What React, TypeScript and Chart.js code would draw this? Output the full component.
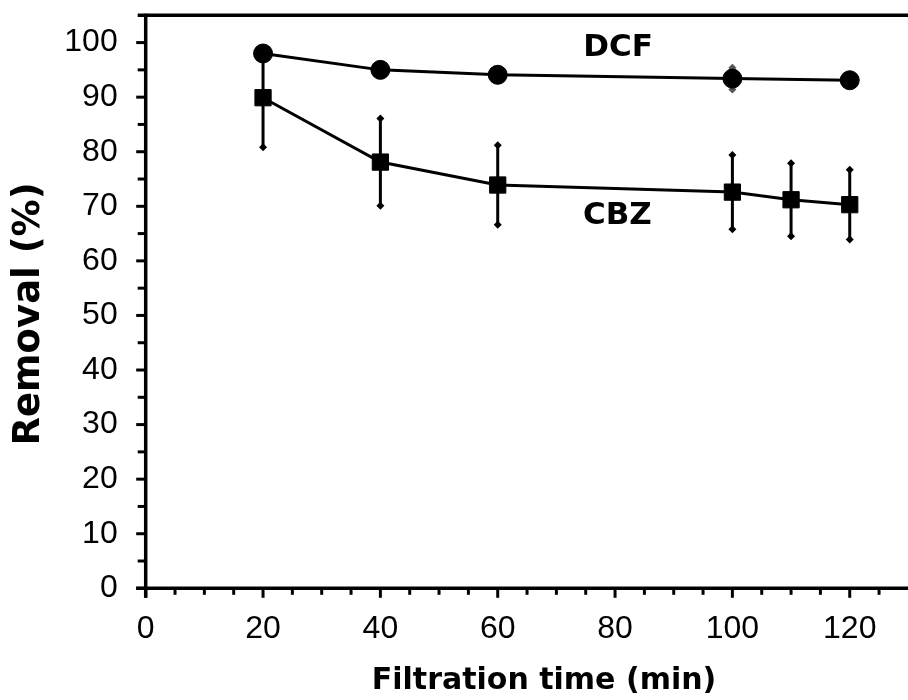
import React, { useEffect, useRef } from "react";
import { Chart, registerables } from "chart.js";

Chart.register(...registerables);

// ---- data ----
const timeDCF = [20, 40, 60, 100, 120];
const removalDCF = [98.0, 95.0, 94.1, 93.4, 93.1];
const errorDCF = [0.8, 0.6, 0.7, 2.0, 0.8];

const timeCBZ = [20, 40, 60, 100, 110, 120];
const removalCBZ = [89.9, 78.1, 73.9, 72.6, 71.2, 70.3];
const errorCBZ = [9.1, 8.0, 7.3, 6.8, 6.7, 6.4];

const xTickValues = [0, 20, 40, 60, 80, 100, 120];
const yTickValues = [0, 10, 20, 30, 40, 50, 60, 70, 80, 90, 100];
const xMin = 0;
const xMax = 127.8;
const yMin = 0;
const yMax = 105;
const minorStep = 5;

const seriesNames = ["DCF", "CBZ"];
const seriesLabelX = [80.5, 80.4];
const seriesLabelY = [99.0, 68.2];
const errorsBySeries = [errorDCF, errorCBZ];

const xTitle = "Filtration time (min)";
const yTitle = "Removal (%)";

const decorPlugin = {
  id: "decor",
  beforeDatasetsDraw(chart: any) {
    const { ctx, scales } = chart;
    const x = scales.x;
    const y = scales.y;
    ctx.save();
    chart.data.datasets.forEach((ds: any, di: number) => {
      const errs = errorsBySeries[di];
      const col = di === 0 ? "#555" : "#000";
      ctx.strokeStyle = col;
      ctx.fillStyle = col;
      ctx.lineWidth = 3;
      ds.data.forEach((p: any, i: number) => {
        const e = errs[i];
        const px = x.getPixelForValue(p.x);
        const top = y.getPixelForValue(p.y + e);
        const bot = y.getPixelForValue(p.y - e);
        ctx.beginPath();
        ctx.moveTo(px, top);
        ctx.lineTo(px, bot);
        ctx.stroke();
        [top, bot].forEach((cy) => {
          ctx.beginPath();
          ctx.moveTo(px, cy - 4);
          ctx.lineTo(px + 4, cy);
          ctx.lineTo(px, cy + 4);
          ctx.lineTo(px - 4, cy);
          ctx.closePath();
          ctx.fill();
        });
      });
    });
    ctx.restore();
  },
  afterDraw(chart: any) {
    const { ctx, scales, chartArea } = chart;
    const x = scales.x;
    const y = scales.y;
    const L = chartArea.left;
    const T = chartArea.top;
    const B = chartArea.bottom;
    const W = chart.width;
    ctx.save();
    ctx.strokeStyle = "#000";
    ctx.fillStyle = "#000";
    ctx.lineCap = "butt";
    // axis lines
    ctx.lineWidth = 3.5;
    ctx.beginPath();
    ctx.moveTo(L - 8, T);
    ctx.lineTo(W, T);
    ctx.stroke();
    ctx.beginPath();
    ctx.moveTo(L, T - 1.5);
    ctx.lineTo(L, B + 9.5);
    ctx.stroke();
    ctx.beginPath();
    ctx.moveTo(L - 9.5, B);
    ctx.lineTo(W, B);
    ctx.stroke();
    // ticks
    ctx.lineWidth = 3;
    for (let v = xMin; v <= xMax; v += minorStep) {
      const px = x.getPixelForValue(v);
      const len = v % 20 === 0 ? 9.5 : 6.5;
      ctx.beginPath();
      ctx.moveTo(px, B);
      ctx.lineTo(px, B + len);
      ctx.stroke();
    }
    for (let v = yMin; v <= 100; v += minorStep) {
      const py = y.getPixelForValue(v);
      const len = v % 10 === 0 ? 9.5 : 8;
      ctx.beginPath();
      ctx.moveTo(L - len, py);
      ctx.lineTo(L, py);
      ctx.stroke();
    }
    // series labels
    ctx.font = "bold 31px 'DejaVu Sans'";
    ctx.textAlign = "center";
    ctx.textBaseline = "middle";
    seriesNames.forEach((n, i) => {
      ctx.fillText(n, x.getPixelForValue(seriesLabelX[i]), y.getPixelForValue(seriesLabelY[i]));
    });
    // axis titles
    ctx.font = "bold 30px 'DejaVu Sans'";
    ctx.fillText(xTitle, 544, 681);
    ctx.translate(29, 314);
    ctx.rotate(-Math.PI / 2);
    ctx.font = "bold 37px 'DejaVu Sans'";
    ctx.fillText(yTitle, 0, 0);
    ctx.restore();
  },
};

export default function App() {
  const ref = useRef<HTMLCanvasElement | null>(null);
  useEffect(() => {
    if (!ref.current) return;
    const chart = new Chart(ref.current, {
      type: "line",
      data: {
        datasets: [
          {
            label: seriesNames[0],
            data: timeDCF.map((t, i) => ({ x: t, y: removalDCF[i] })),
            borderColor: "#000",
            backgroundColor: "#000",
            borderWidth: 3,
            pointStyle: "circle",
            pointRadius: 9.5,
            pointBorderWidth: 1,
            pointBackgroundColor: "#000",
            pointBorderColor: "#000",
            tension: 0,
            clip: false as any,
          },
          {
            label: seriesNames[1],
            data: timeCBZ.map((t, i) => ({ x: t, y: removalCBZ[i] })),
            borderColor: "#000",
            backgroundColor: "#000",
            borderWidth: 3,
            pointStyle: "rect",
            pointRadius: 11.5,
            pointBorderWidth: 1,
            pointBackgroundColor: "#000",
            pointBorderColor: "#000",
            tension: 0,
            clip: false as any,
          },
        ],
      },
      options: {
        responsive: false,
        animation: false,
        layout: { padding: { left: 0, right: 0, top: 15.3, bottom: 0 } },
        plugins: {
          legend: { display: false },
          tooltip: { enabled: false },
        },
        scales: {
          x: {
            type: "linear",
            min: xMin,
            max: xMax,
            grid: { display: false },
            border: { display: false },
            afterBuildTicks: (s: any) => {
              s.ticks = xTickValues.map((v) => ({ value: v }));
            },
            afterFit: (s: any) => {
              s.height = 700 - 588.3;
              s.paddingLeft = 0;
              s.paddingRight = 0;
              s.paddingTop = 0;
              s.paddingBottom = 0;
            },
            ticks: {
              color: "#000",
              padding: 14,
              maxRotation: 0,
              autoSkip: false,
              font: { family: "'Liberation Sans', Arial, sans-serif", size: 32 },
            },
          },
          y: {
            type: "linear",
            min: yMin,
            max: yMax,
            grid: { display: false },
            border: { display: false },
            afterBuildTicks: (s: any) => {
              s.ticks = yTickValues.map((v) => ({ value: v }));
            },
            afterFit: (s: any) => {
              s.width = 145.7;
              s.paddingLeft = 0;
              s.paddingRight = 0;
              s.paddingTop = 0;
              s.paddingBottom = 0;
            },
            ticks: {
              color: "#000",
              padding: 20,
              autoSkip: false,
              font: { family: "'Liberation Sans', Arial, sans-serif", size: 32 },
            },
          },
        },
      },
      plugins: [decorPlugin],
    });
    return () => chart.destroy();
  }, []);
  return (
    <div style={{ position: "absolute", left: 0, top: 0, width: 908, height: 700, background: "#fff" }}>
      <canvas ref={ref} width={908} height={700} style={{ display: "block" }} />
    </div>
  );
}
